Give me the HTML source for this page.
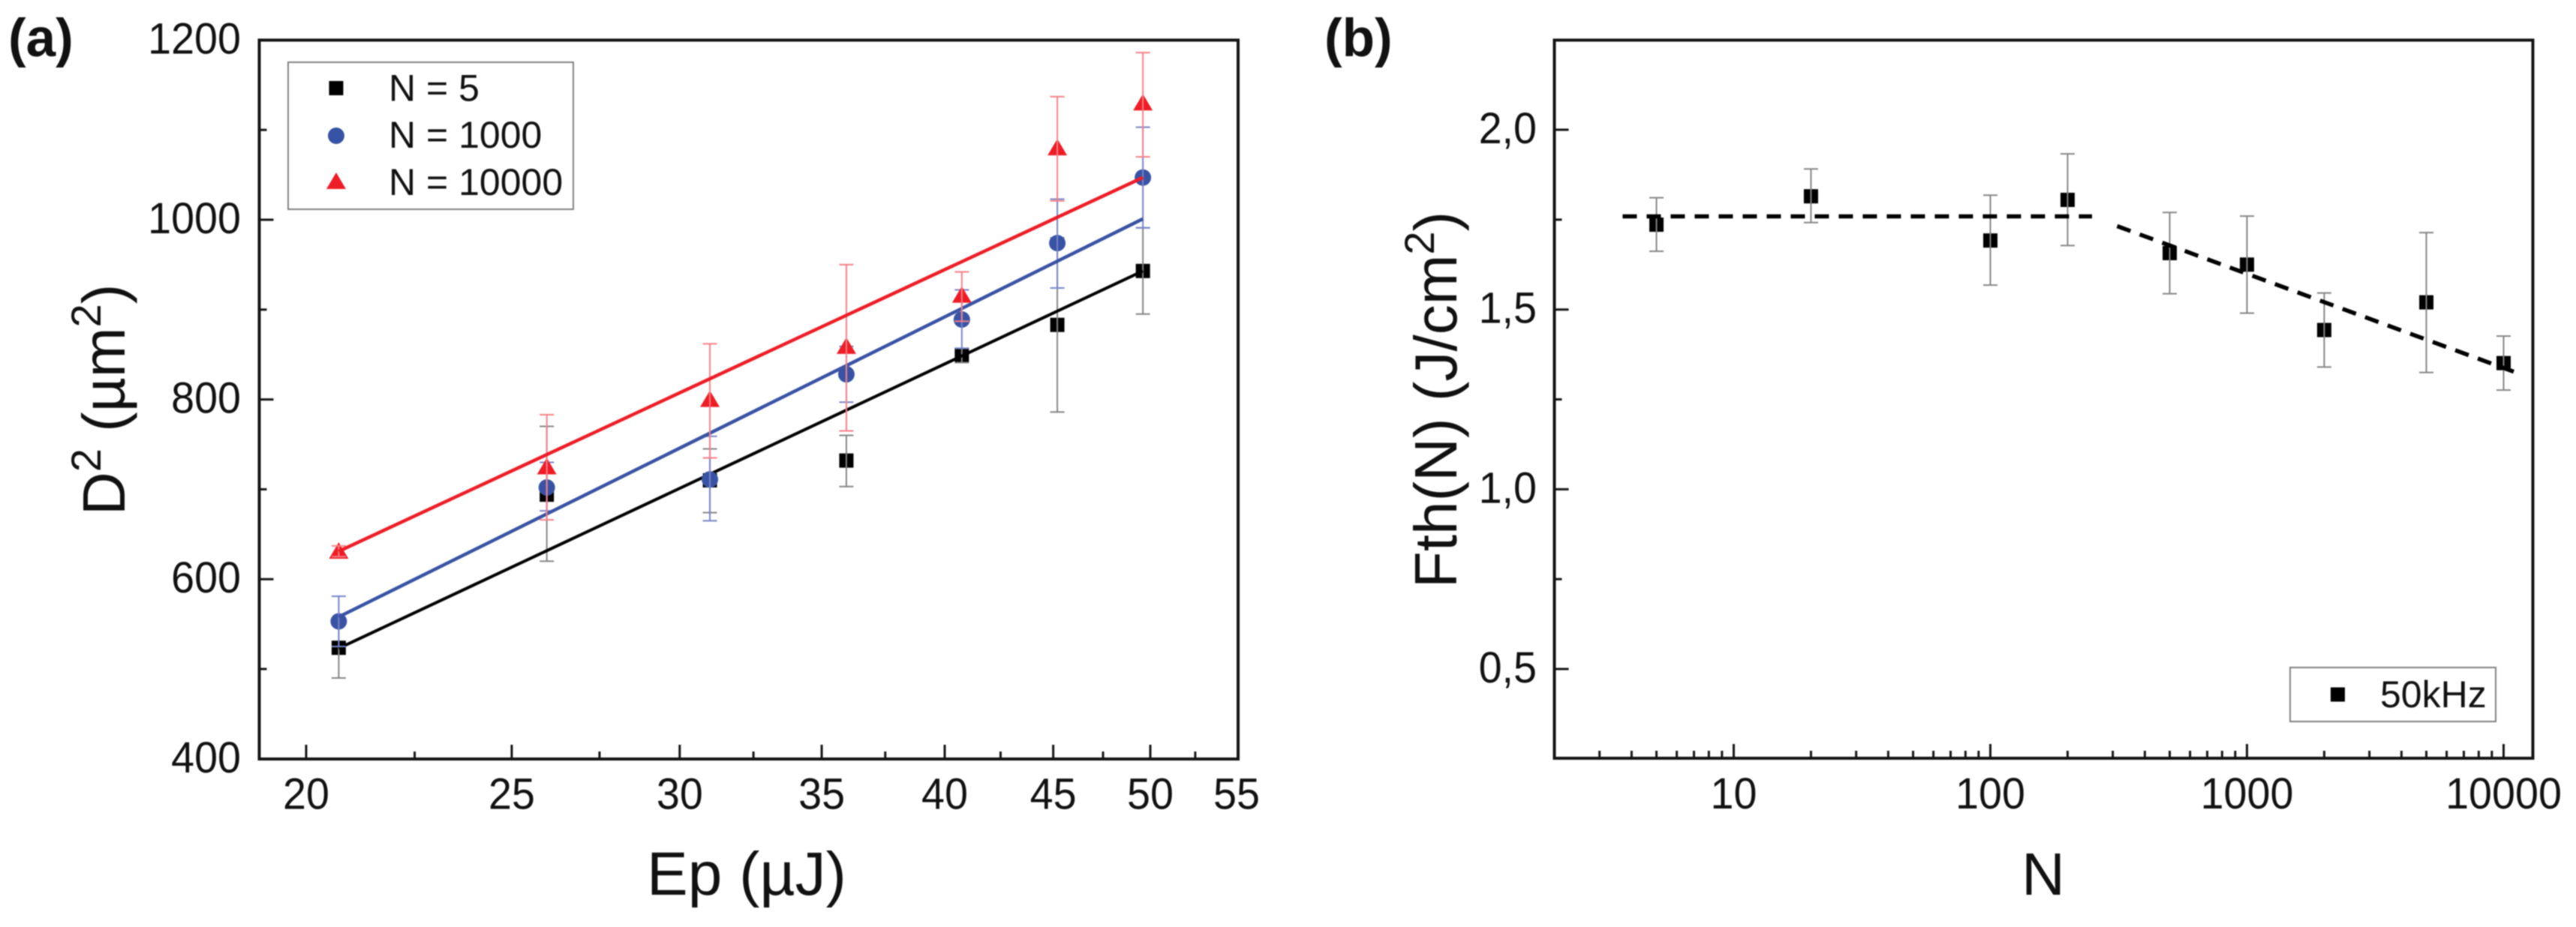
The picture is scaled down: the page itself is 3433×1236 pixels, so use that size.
<!DOCTYPE html>
<html lang="en">
<head>
<meta charset="utf-8">
<title>Ablation threshold charts</title>
<style>
html,body{margin:0;padding:0;background:#fff;}
svg{display:block;font-family:"Liberation Sans",Arial,sans-serif;fill:#111;filter:blur(0.8px);}
</style>
</head>
<body>
<svg id="fig" xmlns="http://www.w3.org/2000/svg" width="3433" height="1236" viewBox="0 0 3433 1236">
<rect x="0" y="0" width="3433" height="1236" fill="#fff"/>
<g id="panelA"></g>
<g id="panelB"></g>

<text x="11" y="75" font-size="71" font-weight="bold">(a)</text>
<text x="1765" y="75" font-size="71" font-weight="bold">(b)</text>

<text transform="translate(166,687) rotate(-90)" font-size="80">D<tspan dy="-32" font-size="56">2</tspan><tspan dy="32"> (µm</tspan><tspan dy="-32" font-size="56">2</tspan><tspan dy="32">)</tspan></text>
<text x="862" y="1193" font-size="82">Ep (µJ)</text>

<text transform="translate(1941,784) rotate(-90)" font-size="80">Fth(N) (J/cm<tspan dy="-30" font-size="56">2</tspan><tspan dy="30">)</tspan></text>
<text x="2723" y="1193" font-size="80" text-anchor="middle">N</text>

<g>
  <rect x="384" y="83" width="380" height="196" fill="#fff" stroke="#808080" stroke-width="2"/>
  <rect x="438.500" y="108" width="19" height="19" fill="#000"/>
  <circle cx="448" cy="181" r="11" fill="#3953a4"/>
  <polygon points="448,230 461,252 435,252" fill="#ee1c25"/>
  <text x="518" y="134.500" font-size="50">N = 5</text>
  <text x="518" y="197" font-size="50">N = 1000</text>
  <text x="518" y="260" font-size="50">N = 10000</text>
</g>
<g>
  <rect x="3052" y="890" width="274" height="72" fill="#fff" stroke="#808080" stroke-width="2"/>
  <rect x="3106" y="916.500" width="19" height="19" fill="#000"/>
  <text x="3172" y="943" font-size="50">50kHz</text>
</g>
</svg>
<script>
// ---- Panel (a) data ----
const aEnergy = [20.72, 25.97, 31.0, 35.95, 40.75, 45.2, 49.6];
const aN5 = [523.6, 694, 710, 732, 849, 883, 943];
const aN5Upper = [557, 770, 745, 760, 857, 980, 991];
const aN5Lower = [490, 620, 674, 703, 841, 786, 895];
const aN1000 = [553, 702, 711, 828, 889, 974, 1047];
const aN1000Upper = [581, 730, 759, 859, 922, 1023, 1103];
const aN1000Lower = [525, 676, 665, 797, 857, 924, 991];
const aN10000 = [631, 725, 800, 859, 916, 1080, 1130];
const aN10000Upper = [637, 783, 862, 950, 942, 1137, 1186];
const aN10000Lower = [625, 666, 735, 765, 887, 1021, 1070];
const aFitN5 = [523, 943];
const aFitN1000 = [558, 1001];
const aFitN10000 = [631, 1047];
const aXTicks = [20, 25, 30, 35, 40, 45, 50, 55];
const aXMinor = [22.5, 27.5, 32.5, 37.5, 42.5, 47.5, 52.5];
const aYTicks = [400, 600, 800, 1000, 1200];
const aYMinor = [500, 700, 900, 1100];

// ---- Panel (b) data ----
const bPulses = [5, 20, 100, 200, 500, 1000, 2000, 5000, 10000];
const bFluence = [1.736, 1.815, 1.692, 1.805, 1.657, 1.625, 1.443, 1.52, 1.351];
const bUpper = [1.811, 1.891, 1.818, 1.933, 1.77, 1.76, 1.546, 1.714, 1.426];
const bLower = [1.662, 1.742, 1.568, 1.678, 1.544, 1.49, 1.34, 1.325, 1.276];
const bPlateauN = [3.69, 249];
const bPlateauF = [1.759, 1.759];
const bDeclineN = [312, 10960];
const bDeclineF = [1.732, 1.327];
const bXTicks = [10, 100, 1000, 10000];
const bXMinor = [3,4,5,6,7,8,9,20,30,40,50,60,70,80,90,200,300,400,500,600,700,800,900,2000,3000,4000,5000,6000,7000,8000,9000];
const bYTicks = [0.5, 1.0, 1.5, 2.0];
const bYMinor = [0.75, 1.25, 1.75];

const NS = 'http://www.w3.org/2000/svg';

function mk(parent, tag, name, attrs) {
  const el = document.createElementNS(NS, tag);
  
  
  for (const k in attrs) el.setAttribute(k, attrs[k]);
  parent.appendChild(el);
  return el;
}
function line(p, name, x1, y1, x2, y2, stroke, w, extra) {
  return mk(p, 'line', name, Object.assign({x1, y1, x2, y2, stroke, 'stroke-width': w}, extra || {}));
}
function label(p, name, x, y, str, anchor) {
  const t = mk(p, 'text', name, {
    transform: 'translate(' + x + ',' + y + ') scale(0.96,1)',
    'font-size': 58,
    'text-anchor': anchor
  });
  t.textContent = str;
  return t;
}

// Axis functions
const AX = {left: 345.5, right: 1650, top: 53.5, bottom: 1012};
const BX = {left: 2071.5, right: 3375.5, top: 53.5, bottom: 1011};
function ax(v) { return 408 + 2827 * Math.log10(v / 20); }
function ay(v) { return 1011.8 - (v - 400) * 1.198; }
function bx(v) { return 2310.5 + 342 * (Math.log10(v) - 1); }
function by(v) { return 892 - (v - 0.5) * 479.3; }

function frame(p, name, b) {
  mk(p, 'rect', name, {
    x: b.left, y: b.top, width: b.right - b.left, height: b.bottom - b.top,
    fill: 'none', stroke: '#141414', 'stroke-width': 4
  });
}
function errorBar(p, name, x, yTop, yBot, color) {
  line(p, name + '-stem', x, yTop, x, yBot, color, 2);
  line(p, name + '-cap-top', x - 9.5, yTop, x + 9.5, yTop, color, 2);
  line(p, name + '-cap-bottom', x - 9.5, yBot, x + 9.5, yBot, color, 2);
}
function square(p, name, x, y) {
  mk(p, 'rect', name, {x: x - 9.5, y: y - 9.5, width: 19, height: 19, fill: '#000'});
}
function circle(p, name, x, y, fill) {
  mk(p, 'circle', name, {cx: x, cy: y, r: 11, fill});
}
function triangle(p, name, x, y, fill) {
  mk(p, 'polygon', name, {points: (x) + ',' + (y - 12) + ' ' + (x + 13) + ',' + (y + 10) + ' ' + (x - 13) + ',' + (y + 10), fill});
}

// ---- Panel (a) ----
const pa = document.getElementById('panelA');
frame(pa, 'plot-frame-a', AX);
aXTicks.forEach(function (v) {
  if (v < 55) line(pa, 'x-tick-a-' + v, ax(v), AX.bottom, ax(v), AX.bottom - 19, '#141414', 3);
  label(pa, 'x-tick-label-a-' + v, v === 55 ? ax(v) - 2 : ax(v), 1078.5, String(v), 'middle');
});
aXMinor.forEach(function (v) {
  line(pa, 'x-minor-tick-a', ax(v), AX.bottom, ax(v), AX.bottom - 10, '#141414', 3);
});
aYTicks.forEach(function (v) {
  if (v > 400 && v < 1200) line(pa, 'y-tick-a-' + v, AX.left, ay(v), AX.left + 19, ay(v), '#141414', 3);
  label(pa, 'y-tick-label-a-' + v, 321, ay(v) + 18, String(v), 'end');
});
aYMinor.forEach(function (v) {
  line(pa, 'y-minor-tick-a', AX.left, ay(v), AX.left + 10, ay(v), '#141414', 3);
});

function drawSeriesA(key, vals, up, lo, fit, errColor, fitColor, fitW, marker) {
  vals.forEach(function (v, i) {
    marker(pa, key + '-point-' + i, ax(aEnergy[i]), ay(v));
    errorBar(pa, key + '-error-' + i, ax(aEnergy[i]), ay(up[i]), ay(lo[i]), errColor);
  });
  line(pa, key + '-fit-line', ax(aEnergy[0]), ay(fit[0]), ax(aEnergy[aEnergy.length - 1]), ay(fit[1]), fitColor, fitW);
}
drawSeriesA('n5', aN5, aN5Upper, aN5Lower, aFitN5, '#858585', '#000', 4, square);
drawSeriesA('n1000', aN1000, aN1000Upper, aN1000Lower, aFitN1000, '#7683c8', '#3953a4', 4.500, function (p, n, x, y) { circle(p, n, x, y, '#3953a4'); });
drawSeriesA('n10000', aN10000, aN10000Upper, aN10000Lower, aFitN10000, '#f77f86', '#ee1c25', 4.500, function (p, n, x, y) { triangle(p, n, x, y, '#ee1c25'); });

// ---- Panel (b) ----
const pb = document.getElementById('panelB');
frame(pb, 'plot-frame-b', BX);
bXTicks.forEach(function (v) {
  line(pb, 'x-tick-b-' + v, bx(v), BX.bottom, bx(v), BX.bottom - 19, '#141414', 3);
  label(pb, 'x-tick-label-b-' + v, bx(v), 1078, String(v), 'middle');
});
bXMinor.forEach(function (v) {
  line(pb, 'x-minor-tick-b', bx(v), BX.bottom, bx(v), BX.bottom - 10, '#141414', 3);
});
bYTicks.forEach(function (v) {
  line(pb, 'y-tick-b', BX.left, by(v), BX.left + 19, by(v), '#141414', 3);
  label(pb, 'y-tick-label-b', 2048, by(v) + 18, v.toFixed(1).replace('.', ','), 'end');
});
bYMinor.forEach(function (v) {
  line(pb, 'y-minor-tick-b', BX.left, by(v), BX.left + 10, by(v), '#141414', 3);
});
bPulses.forEach(function (n, i) {
  square(pb, 'fluence-point-' + n, bx(n), by(bFluence[i]));
  errorBar(pb, 'fluence-error-' + n, bx(n), by(bUpper[i]), by(bLower[i]), '#858585');
});
line(pb, 'plateau-trend-line', bx(bPlateauN[0]), by(bPlateauF[0]), bx(bPlateauN[1]), by(bPlateauF[1]), '#000', 5.500, {'stroke-dasharray': '19 13'});
line(pb, 'decline-trend-line', bx(bDeclineN[0]), by(bDeclineF[0]), bx(bDeclineN[1]), by(bDeclineF[1]), '#000', 5.500, {'stroke-dasharray': '19 13'});
</script>
</body>
</html>
